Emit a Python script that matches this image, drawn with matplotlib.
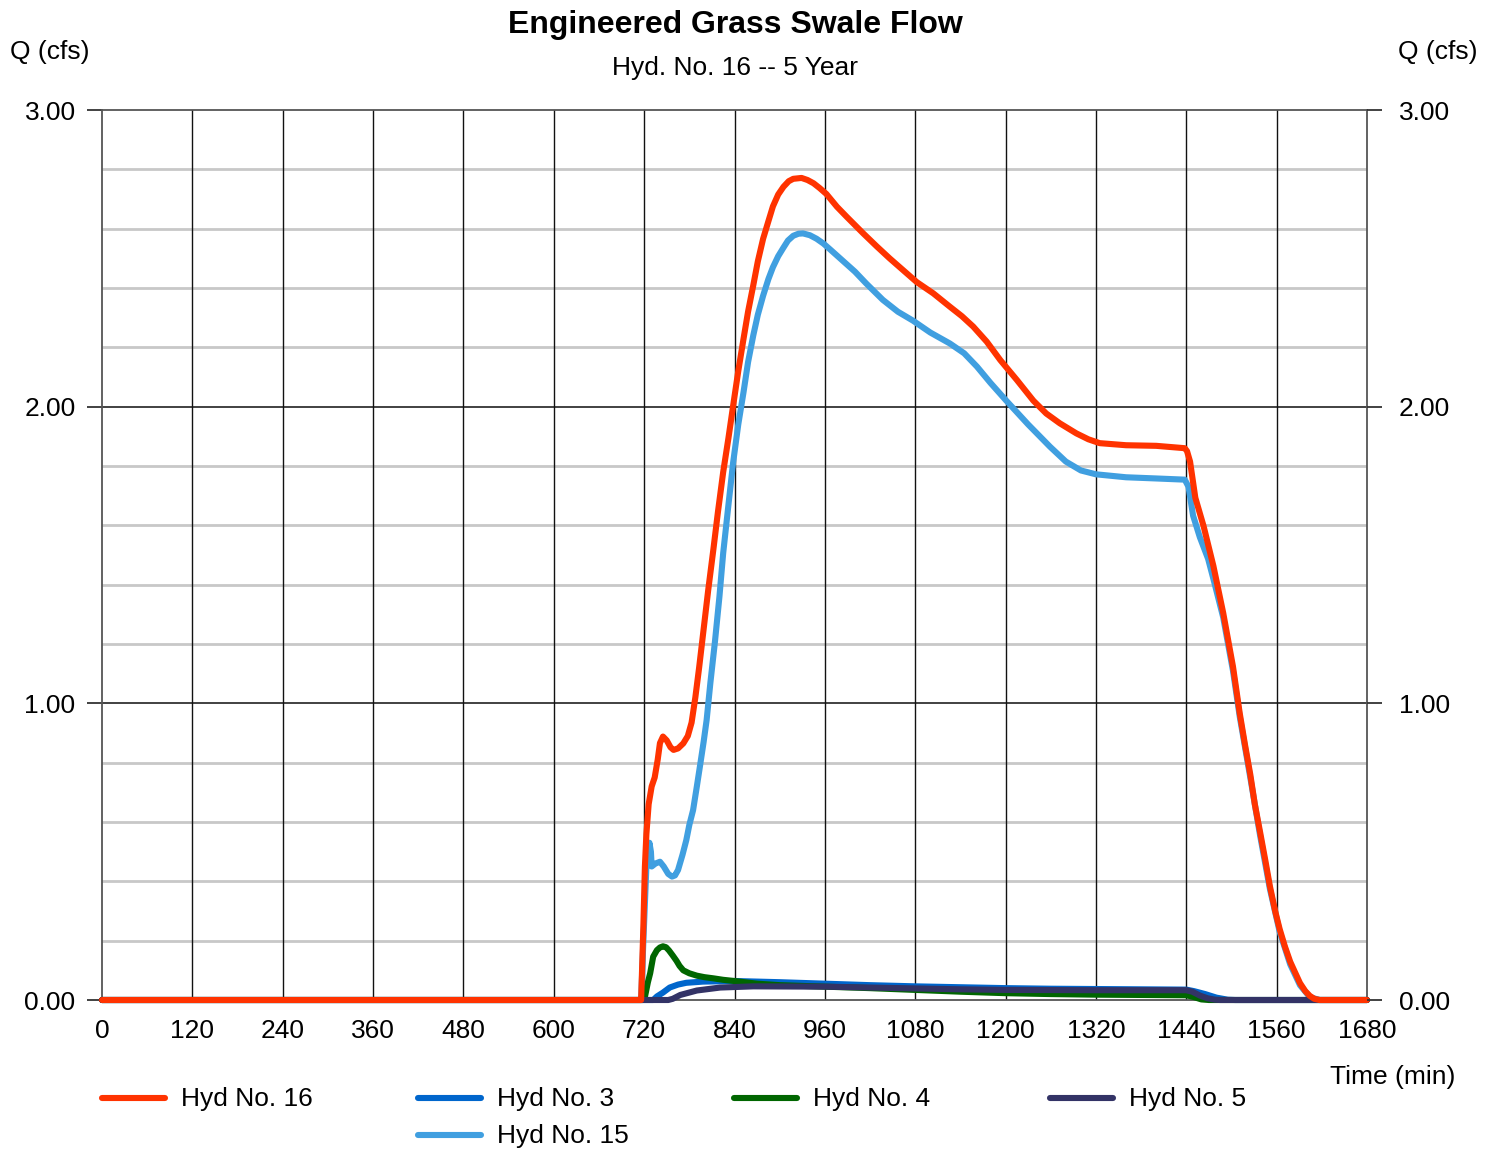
import numpy as np
import matplotlib.pyplot as plt
from matplotlib.lines import Line2D

plt.rcParams['font.family'] = ['Liberation Sans', 'DejaVu Sans']

# Hyd No. 16 (swale outflow)
t16 = [0, 714, 716, 719, 721, 723, 726, 730, 734, 738, 741, 745, 750, 755, 759, 765,
       772, 778, 783, 788, 793, 799, 805, 812, 818, 825, 832, 838, 845, 852, 858, 865,
       871, 878, 885, 891, 898, 905, 912, 918, 929, 937, 945, 953, 962, 976, 989, 1000,
       1011, 1029, 1046, 1064, 1082, 1104, 1126, 1142, 1157, 1175, 1193, 1215, 1237,
       1254, 1272, 1294, 1310, 1325, 1360, 1400, 1438, 1441, 1445, 1452, 1463, 1476,
       1489, 1502, 1511, 1518, 1525, 1531, 1538, 1545, 1551, 1558, 1564, 1571, 1578,
       1585, 1591, 1598, 1604, 1610, 1617, 1680]
q16 = [0, 0, 0, 0.25, 0.45, 0.56, 0.66, 0.72, 0.75, 0.81, 0.866, 0.888, 0.875, 0.852,
       0.843, 0.848, 0.865, 0.89, 0.935, 1.02, 1.12, 1.25, 1.38, 1.52, 1.645, 1.78,
       1.895, 2.0, 2.12, 2.229, 2.32, 2.41, 2.49, 2.566, 2.625, 2.675, 2.715, 2.741,
       2.76, 2.768, 2.771, 2.764, 2.753, 2.737, 2.717, 2.674, 2.64, 2.612, 2.584, 2.54,
       2.50, 2.46, 2.42, 2.382, 2.337, 2.305, 2.27, 2.219, 2.157, 2.09, 2.02, 1.977,
       1.944, 1.91, 1.89, 1.877, 1.87, 1.868, 1.86, 1.85, 1.815, 1.693, 1.597, 1.463,
       1.305, 1.124, 0.966, 0.86, 0.76, 0.66, 0.566, 0.47, 0.384, 0.30, 0.239, 0.18,
       0.129, 0.09, 0.057, 0.03, 0.014, 0.004, 0, 0]

# Hyd No. 3
t3 = [0, 732, 737, 745, 754, 765, 776, 798, 840, 870, 900, 960, 1020, 1080, 1140,
      1200, 1260, 1320, 1380, 1440, 1450, 1465, 1480, 1495, 1505, 1680]
q3 = [0, 0, 0.012, 0.025, 0.042, 0.052, 0.058, 0.062, 0.064, 0.062, 0.06, 0.055, 0.05,
      0.046, 0.043, 0.04, 0.038, 0.037, 0.036, 0.035, 0.03, 0.02, 0.008, 0.001, 0, 0]

# Hyd No. 4
t4 = [0, 718, 721, 725, 728, 732, 737, 741, 745, 749, 753, 758, 763, 767, 772, 780,
      790, 800, 812, 825, 840, 870, 900, 960, 1020, 1080, 1140, 1200, 1260, 1320, 1380,
      1440, 1450, 1460, 1470, 1680]
q4 = [0, 0, 0.01, 0.06, 0.09, 0.146, 0.168, 0.177, 0.181, 0.178, 0.167, 0.15, 0.132,
      0.115, 0.10, 0.09, 0.082, 0.077, 0.073, 0.068, 0.064, 0.055, 0.05, 0.045, 0.04,
      0.034, 0.028, 0.023, 0.02, 0.018, 0.017, 0.016, 0.01, 0.002, 0, 0]

# Hyd No. 5
t5 = [0, 752, 758, 768, 790, 821, 865, 960, 1020, 1080, 1140, 1200, 1320, 1440, 1448,
      1458, 1468, 1478, 1485, 1680]
q5 = [0, 0, 0.004, 0.017, 0.032, 0.042, 0.046, 0.045, 0.042, 0.039, 0.036, 0.034,
      0.033, 0.033, 0.028, 0.015, 0.006, 0.001, 0, 0]

# Hyd No. 15
t15 = [0, 716, 719, 723, 727, 729, 730, 735, 741, 746, 752, 757, 761, 765, 771, 776,
       780, 785, 790, 794, 799, 803, 808, 814, 820, 825, 832, 838, 845, 852, 858, 865,
       871, 878, 885, 891, 898, 905, 911, 918, 925, 931, 940, 949, 958, 967, 978, 989,
       1000, 1015, 1037, 1057, 1077, 1100, 1126, 1145, 1162, 1180, 1201, 1230, 1259,
       1280, 1300, 1320, 1360, 1400, 1438, 1443, 1449, 1458, 1469, 1478, 1489, 1502,
       1511, 1525, 1538, 1551, 1564, 1578, 1591, 1604, 1617, 1680]
q15 = [0, 0, 0.2, 0.45, 0.53, 0.50, 0.45, 0.46, 0.466, 0.45, 0.425, 0.416, 0.42, 0.438,
       0.49, 0.539, 0.59, 0.64, 0.72, 0.786, 0.87, 0.944, 1.07, 1.207, 1.36, 1.507,
       1.67, 1.808, 1.94, 2.049, 2.15, 2.241, 2.31, 2.374, 2.43, 2.47, 2.507, 2.536,
       2.56, 2.576, 2.583, 2.584, 2.578, 2.566, 2.55, 2.53, 2.505, 2.48, 2.455, 2.415,
       2.36, 2.32, 2.29, 2.25, 2.213, 2.18, 2.135, 2.08, 2.02, 1.94, 1.865, 1.815,
       1.785, 1.772, 1.762, 1.758, 1.754, 1.73, 1.633, 1.56, 1.487, 1.40, 1.29, 1.11,
       0.955, 0.75, 0.555, 0.375, 0.23, 0.12, 0.05, 0.01, 0, 0]

x_ticks = list(range(0, 1681, 120))
y_ticks = [0, 1, 2, 3]
y_labels = ['0.00', '1.00', '2.00', '3.00']

series = [
    ('Hyd No. 16', t16, q16, '#FF3300'),
    ('Hyd No. 3', t3, q3, '#0066CC'),
    ('Hyd No. 4', t4, q4, '#006600'),
    ('Hyd No. 5', t5, q5, '#333366'),
    ('Hyd No. 15', t15, q15, '#409FE0'),
]
draw_order = ['Hyd No. 15', 'Hyd No. 3', 'Hyd No. 4', 'Hyd No. 5', 'Hyd No. 16']
LW = 4.4

W, H = 1497, 1151
fig = plt.figure(figsize=(W / 100, H / 100), dpi=100)
ax = fig.add_axes([102/W, 1 - 1000/H, 1265/W, 890/H])

ax.set_xlim(0, 1680)
ax.set_ylim(0, 3)

# grid
for y in np.arange(0.2, 3.0, 0.2):
    if abs(y - round(y)) > 1e-6:
        ax.axhline(y, color='#c8c8c8', lw=2, zorder=1)
for y in [1, 2]:
    ax.axhline(y, color='#333333', lw=1.3, zorder=1)
for x in x_ticks[1:-1]:
    ax.axvline(x, color='#111111', lw=1, zorder=1)

for spine in ['left', 'right', 'top', 'bottom']:
    ax.spines[spine].set_color('#555555')
    ax.spines[spine].set_linewidth(1.3)

colors = {}
for name in draw_order:
    for lab, t, q, c in series:
        if lab == name:
            ax.plot(t, q, color=c, lw=LW, solid_capstyle='round',
                    solid_joinstyle='round', zorder=3, clip_on=False)
            colors[lab] = c

ax.set_xticks(x_ticks)
ax.set_xticklabels([str(x) for x in x_ticks])
ax.set_yticks(y_ticks)
ax.set_yticklabels(y_labels)
ax.tick_params(axis='x', length=0, labelsize=19, pad=14)
ax.tick_params(axis='y', length=11, width=1.3, color='#333333', labelsize=19, pad=8)

ax2 = ax.twinx()
ax2.set_ylim(0, 3)
ax2.set_yticks(y_ticks)
ax2.set_yticklabels(y_labels)
ax2.tick_params(axis='y', length=11, width=1.3, color='#333333', labelsize=19, pad=12)
for spine in ax2.spines.values():
    spine.set_visible(False)

fig.text(735/W, 1 - 25/H, 'Engineered Grass Swale Flow', ha='center', va='center',
         fontsize=23, fontweight='bold')
fig.text(735/W, 1 - 68/H, 'Hyd. No. 16 -- 5 Year', ha='center', va='center',
         fontsize=19)
fig.text(10/W, 1 - 52/H, 'Q (cfs)', ha='left', va='center', fontsize=19)
fig.text(1477/W, 1 - 52/H, 'Q (cfs)', ha='right', va='center', fontsize=19)
fig.text(1455/W, 1 - 1077/H, 'Time (min)', ha='right', va='center', fontsize=19)

# legend laid out like the original: four columns, Hyd No. 15 under Hyd No. 3
legend_slots = [('Hyd No. 16', 0, 0), ('Hyd No. 3', 1, 0), ('Hyd No. 4', 2, 0),
                ('Hyd No. 5', 3, 0), ('Hyd No. 15', 1, 1)]
for lab, col, row in legend_slots:
    x0 = 102 + col * 316
    y0 = 1098 + row * 37
    fig.add_artist(Line2D([x0/W, (x0 + 63)/W], [1 - y0/H, 1 - y0/H],
                          transform=fig.transFigure, color=colors[lab], lw=LW,
                          solid_capstyle='round'))
    fig.text((x0 + 79)/W, 1 - (y0 + 1)/H, lab, ha='left', va='center', fontsize=19)

fig.savefig('out.png', dpi=100)
